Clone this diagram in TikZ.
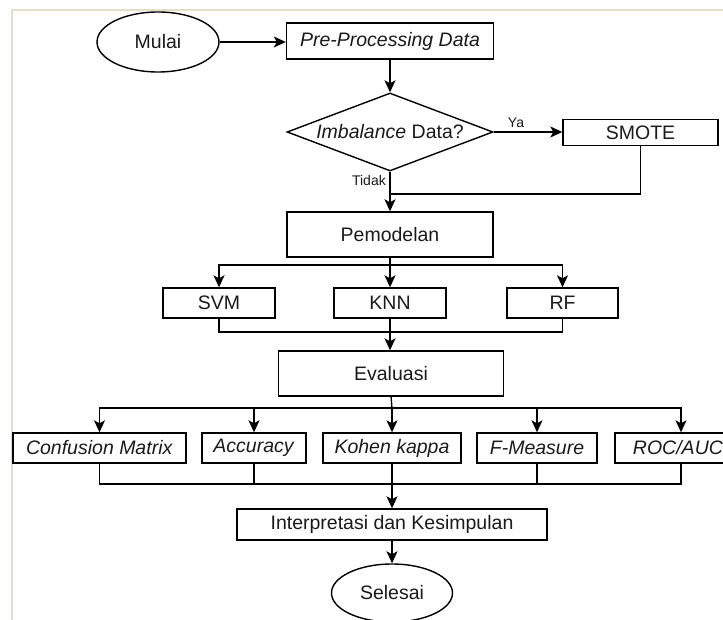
\documentclass[tikz,border=0pt]{standalone}
\usepackage{fontspec}
\setmainfont{Liberation Sans}
\usetikzlibrary{shapes.geometric,arrows.meta}
\definecolor{framec}{HTML}{E4DFC9}
\definecolor{txt}{HTML}{1A1A1A}
\begin{document}
\begin{tikzpicture}[x=1pt,y=-1pt,
  every node/.style={font=\fontsize{19.5}{23}\selectfont, text=txt},
  box/.style={draw, line width=1.4pt, rectangle, inner sep=0pt},
  term/.style={draw, line width=1.4pt, ellipse, inner sep=0pt},
  lab/.style={font=\fontsize{14}{17}\selectfont, inner sep=0pt},
  conn/.style={line width=1.3pt},
  arr/.style={conn, -{Stealth[length=12pt,width=11pt,inset=3pt]}},
]
\useasboundingbox (0,0) rectangle (723,620);
\clip (0,0) rectangle (723,620);
\fill[white] (0,0) rectangle (723,620);
\draw[framec, line width=2pt] (12,620) -- (12,10.5) -- (723,10.5);

% nodes
\node[term, minimum width=122pt, minimum height=60pt] (mulai) at (158,42) {Mulai};
\node[box, minimum width=207pt, minimum height=36pt] (pre) at (390,41) {\textit{Pre-Processing Data}};
\node[draw, diamond, line width=1.4pt, minimum width=206pt, minimum height=78pt, inner sep=0pt] (dia) at (390,132) {};
\node (diat) at (dia.center) {\textit{Imbalance} Data?};
\node[box, minimum width=155pt, minimum height=26pt] (smote) at (640.5,132.5) {SMOTE};
\node[lab] (ya) at (516,123) {Ya};
\node[lab, anchor=east] (tidak) at (386,180) {Tidak};
\node[box, minimum width=206pt, minimum height=45pt] (pemo) at (390,234.5) {Pemodelan};
\node[box, minimum width=112pt, minimum height=30pt] (svm) at (219,303) {SVM};
\node[box, minimum width=112pt, minimum height=30pt] (knn) at (390,303) {KNN};
\node[box, minimum width=111pt, minimum height=30pt] (rf) at (562.5,303) {RF};
\node[box, minimum width=225pt, minimum height=45pt] (eval) at (391,373.5) {Evaluasi};
\node[box, minimum width=173pt, minimum height=30pt] (cm) at (99.5,448) {\textit{Confusion Matrix}};
\node[box, minimum width=104pt, minimum height=30pt] (acc) at (254,448) {\textit{Accuracy}};
\node[box, minimum width=138pt, minimum height=30pt] (koh) at (392,448) {\textit{Kohen kappa}};
\node[box, minimum width=120pt, minimum height=30pt] (fm) at (537,448) {\textit{F-Measure}};
\node[box, minimum width=126pt, minimum height=30pt] (roc) at (678,448) {\textit{ROC/AUC}};
\node[box, minimum width=310pt, minimum height=31pt] (interp) at (392,524.5) {Interpretasi dan Kesimpulan};
\node[term, minimum width=121pt, minimum height=58pt] (selesai) at (392,593) {Selesai};

% junction coordinates
\coordinate (j1) at (390,194);
\coordinate (b1) at (390,265);
\coordinate (b2) at (390,332);
\coordinate (b3) at (392,408);
\coordinate (b4) at (392,484);

% connectors
\draw[arr] (mulai.east) -- (pre.west |- mulai.east);
\draw[arr] (pre.south) -- (dia.north);
\draw[arr] (dia.east) -- (smote.west |- dia.east);
\draw[arr] (dia.south) -- (pemo.north);
\draw[conn] (smote.south) |- (j1);

\draw[conn] (pemo.south) -- (b1);
\draw[arr] (b1) -| (svm.north);
\draw[arr] (b1) -- (knn.north);
\draw[arr] (b1) -| (rf.north);
\draw[conn] (svm.south) |- (b2) -| (rf.south);
\draw[arr] (knn.south) -- (knn.south |- eval.north);

\draw[conn] (eval.south |- b3) ++(0,-12) -- (b3);
\draw[arr] (b3) -| (cm.north);
\draw[arr] (b3) -| (acc.north);
\draw[arr] (b3) -- (koh.north);
\draw[arr] (b3) -| (fm.north);
\draw[arr] (b3) -| ([xshift=3pt]roc.north);
\draw[conn] (cm.south) |- (b4) -| ([xshift=3pt]roc.south);
\draw[conn] (acc.south) -- (acc.south |- b4);
\draw[conn] (fm.south) -- (fm.south |- b4);
\draw[arr] (koh.south) -- (interp.north);
\draw[arr] (interp.south) -- (selesai.north);
\end{tikzpicture}
\end{document}
